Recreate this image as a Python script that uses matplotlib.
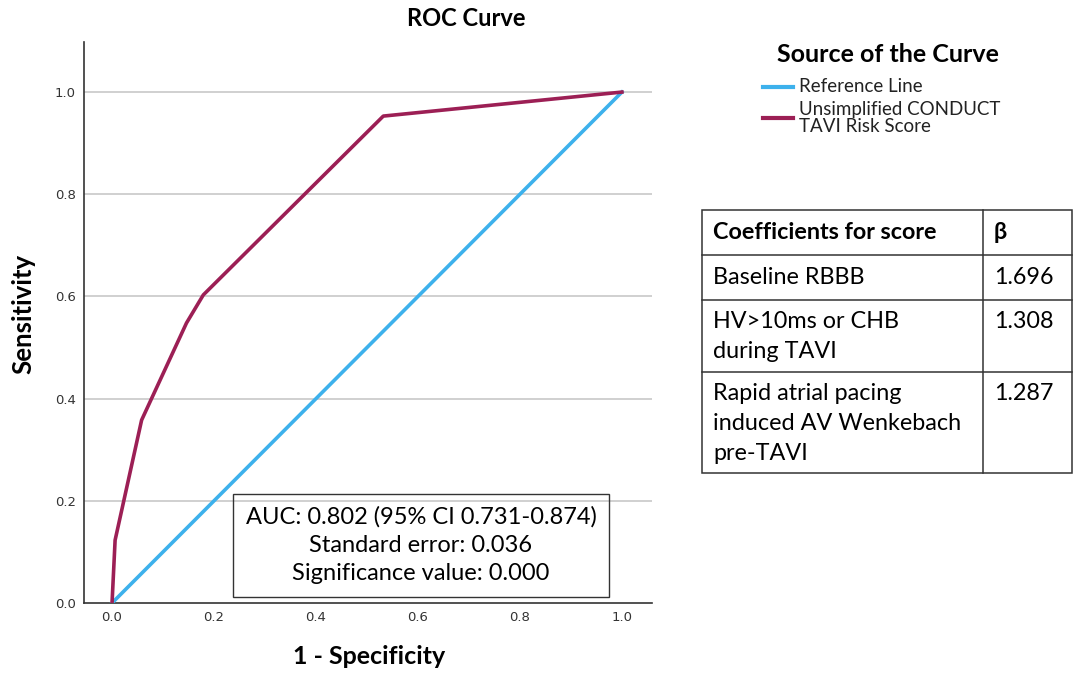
import matplotlib
matplotlib.use("Agg")
import matplotlib.pyplot as plt
from matplotlib.patches import Rectangle

# ---- data ----
ref_x = [0.0, 1.0]
ref_y = [0.0, 1.0]
roc_fpr = [0.0, 0.006, 0.058, 0.146, 0.179, 0.532, 1.0]
roc_tpr = [0.0, 0.123, 0.358, 0.548, 0.603, 0.953, 1.0]
x_ticks = [0.0, 0.2, 0.4, 0.6, 0.8, 1.0]
y_ticks = [0.0, 0.2, 0.4, 0.6, 0.8, 1.0]
series_names = ["Reference Line", "Unsimplified CONDUCT\nTAVI Risk Score"]
stats_lines = ["AUC: 0.802 (95% CI 0.731-0.874)", "Standard error: 0.036", "Significance value: 0.000"]
table_header = ["Coefficients for score", "β"]
table_rows = ["Baseline RBBB", "HV>10ms or CHB\nduring TAVI", "Rapid atrial pacing\ninduced AV Wenkebach\npre-TAVI"]
table_betas = ["1.696", "1.308", "1.287"]

BLUE = "#3DB1EC"
MAROON = "#9C1F55"

plt.rcParams['font.family'] = ['Lato', 'DejaVu Sans']

W, H = 1075, 674
fig = plt.figure(figsize=(W / 100, H / 100), dpi=100)

def fx(px):
    return px / W

def fy(py):
    return 1 - py / H

ax = fig.add_axes([fx(84), fy(603), fx(652) - fx(84), fy(42) - fy(603)])
ax.set_xlim(-0.055, 1.059)
ax.set_ylim(0, 1.098)
for yv in y_ticks[1:]:
    ax.axhline(yv, color="#c8c8c8", lw=1.2, zorder=0)
l1, = ax.plot(ref_x, ref_y, color=BLUE, lw=2.6, zorder=3)
l2, = ax.plot(roc_fpr, roc_tpr, color=MAROON, lw=2.6, zorder=4, solid_joinstyle="round")
ax.set_xticks(x_ticks)
ax.set_yticks(y_ticks)
ax.set_xticklabels([f"{v:.1f}" for v in x_ticks], family="DejaVu Sans", fontsize=9.5, color="#333333")
ax.set_yticklabels([f"{v:.1f}" for v in y_ticks], family="DejaVu Sans", fontsize=9.5, color="#333333")
ax.tick_params(length=0, pad=6)
for s in ["top", "right"]:
    ax.spines[s].set_visible(False)
for s in ["left", "bottom"]:
    ax.spines[s].set_color("#333333")
    ax.spines[s].set_linewidth(1.2)

# overlay in pixel coordinates for annotations
ov = fig.add_axes([0, 0, 1, 1], zorder=10)
ov.set_xlim(0, W)
ov.set_ylim(H, 0)
ov.axis("off")
ov.patch.set_alpha(0)

ov.text(466, 18, "ROC Curve", fontsize=17, fontweight="bold", ha="center", va="center")
ov.text(369, 657, "1 - Specificity", fontsize=18, fontweight="bold", ha="center", va="center")
ov.text(23, 314, "Sensitivity", fontsize=18.5, fontweight="bold", ha="center", va="center", rotation=90)

# stats box
ov.add_patch(Rectangle((233, 494), 376, 103, fill=False, ec="#333333", lw=1))
for i, s in enumerate(stats_lines):
    ov.text(421, 517 + 28 * i, s, fontsize=17, ha="center", va="center")

# legend
ov.text(777, 55, "Source of the Curve", fontsize=18, fontweight="bold", ha="left", va="center")
ov.plot([763, 793], [87, 87], color=BLUE, lw=3)
ov.text(799, 87, series_names[0], fontsize=13.5, ha="left", va="center", color="#222222")
ov.plot([763, 793], [118, 118], color=MAROON, lw=3)
for j, part in enumerate(series_names[1].split("\n")):
    ov.text(799, 110 + 17 * j, part, fontsize=13.5, ha="left", va="center", color="#222222")

# table
x0, xm, x1 = 702, 983, 1072
row_y = [210, 255, 300, 372, 473]
ov.add_patch(Rectangle((x0, row_y[0]), x1 - x0, row_y[-1] - row_y[0], fill=False, ec="#333333", lw=1.1))
for yy in row_y[1:-1]:
    ov.plot([x0, x1], [yy, yy], color="#333333", lw=1.1)
ov.plot([xm, xm], [row_y[0], row_y[-1]], color="#333333", lw=1.1)
ov.text(x0 + 11, (row_y[0] + row_y[1]) / 2, table_header[0], fontsize=16.8, fontweight="bold", va="center")
ov.text(xm + 11, (row_y[0] + row_y[1]) / 2, table_header[1], fontsize=16.8, fontweight="bold", va="center")
for i, (lab, b) in enumerate(zip(table_rows, table_betas)):
    top = row_y[i + 1]
    for j, part in enumerate(lab.split("\n")):
        ov.text(x0 + 11, top + 22 + 30 * j, part, fontsize=16.8, va="center")
    ov.text(xm + 11, top + 22, b, fontsize=16.8, va="center")

fig.savefig("out.png", dpi=100)
